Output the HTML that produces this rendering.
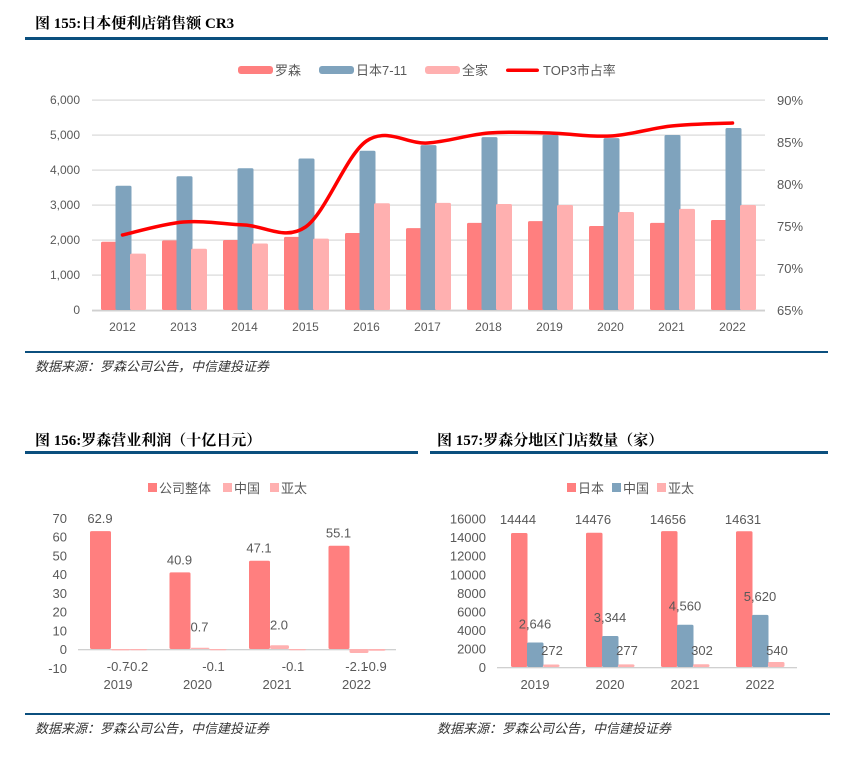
<!DOCTYPE html>
<html><head><meta charset="utf-8"><style>
body{margin:0;background:#fff;width:856px;height:766px;overflow:hidden}
svg{display:block}
text{font-family:"Liberation Sans","Noto Sans CJK SC",sans-serif;fill:#595959}
.t{font-family:"Liberation Serif","Noto Serif CJK SC","Noto Sans CJK SC",serif;font-weight:bold;fill:#000;font-size:15px}
.s{font-family:"Liberation Serif","Noto Sans CJK SC",sans-serif;font-style:italic;fill:#333;font-size:13px}
</style></head><body>
<svg id="c" width="856" height="766" xmlns="http://www.w3.org/2000/svg">
<text class="t" x="35" y="28">图 155:日本便利店销售额 CR3</text>
<rect x="25" y="37" width="803" height="3" fill="#0b4f7e"/>
<rect x="25" y="351" width="803" height="2" fill="#0b4f7e"/>
<text class="s" x="35" y="371">数据来源：罗森公司公告，中信建投证券</text>
<text class="t" x="35" y="445">图 156:罗森营业利润（十亿日元）</text>
<rect x="25" y="451" width="393" height="3" fill="#0b4f7e"/>
<text class="t" x="437" y="445">图 157:罗森分地区门店数量（家）</text>
<rect x="430" y="451" width="398" height="3" fill="#0b4f7e"/>
<rect x="25" y="713" width="805" height="2" fill="#0b4f7e"/>
<text class="s" x="35" y="733">数据来源：罗森公司公告，中信建投证券</text>
<text class="s" x="437" y="733">数据来源：罗森公司公告，中信建投证券</text>
<g id="g"></g>
</svg>
<script>
var g=document.getElementById('g'),h='';
function R(x,y,w,hh,c,r){h+='<rect x="'+x+'" y="'+y+'" width="'+w+'" height="'+hh+'" fill="'+c+'"'+(r?' rx="'+r+'"':'')+'/>';}
function T(x,y,s,sz,a){h+='<text x="'+x+'" y="'+y+'" font-size="'+(sz||12)+'" text-anchor="'+(a||'middle')+'">'+s+'</text>';}
var RED='#ff7f7f',BLUE='#7fa3bd',PINK='#ffb0b0';
// chart 1
for(var i=0;i<=6;i++){var y=310-35*i;R(92,y-0.5,673,1.2,'#d9d9d9');T(80,y+4,(i==0?'0':i+',000'),12,'end');}
for(i=0;i<=5;i++){T(777,310-42*i+5,(65+5*i)+'%',13,'start');}
R(92,310,673,1.5,'#d0d0d0');
var L=[1950,1990,2000,2090,2200,2340,2490,2540,2400,2490,2570],S=[3550,3820,4050,4330,4550,4710,4940,5000,4910,5000,5200],F=[1610,1750,1900,2040,3050,3060,3030,3000,2800,2890,3000];
var Y=[235,222,225,227,141,143,133,133,136,126,123],pts=[];
for(i=0;i<11;i++){var c=122.5+61*i;
R(c-21.5,310-L[i]*0.035,16,L[i]*0.035,RED,1.5);R(c-7,310-S[i]*0.035,16,S[i]*0.035,BLUE,1.5);R(c+7.5,310-F[i]*0.035,16,F[i]*0.035,PINK,1.5);
T(c,331,2012+i,12);pts.push([c,Y[i]]);}
var d='M'+pts[0][0]+','+pts[0][1];
for(i=0;i<10;i++){var p0=pts[Math.max(i-1,0)],p1=pts[i],p2=pts[i+1],p3=pts[Math.min(i+2,10)];
d+=' C'+(p1[0]+(p2[0]-p0[0])/6)+','+(p1[1]+(p2[1]-p0[1])/6)+' '+(p2[0]-(p3[0]-p1[0])/6)+','+(p2[1]-(p3[1]-p1[1])/6)+' '+p2[0]+','+p2[1];}
h+='<path d="'+d+'" fill="none" stroke="#ff0000" stroke-width="3.5" stroke-linecap="round"/>';
R(238,66,35,8,RED,3);T(275,75,'罗森',13,'start');
R(319,66,35,8,BLUE,3);T(356,75,'日本7-11',13,'start');
R(425,66,35,8,PINK,3);T(462,75,'全家',13,'start');
R(506,68.5,33,3.5,'#ff0000',2);T(543,75,'TOP3市占率',13,'start');
// chart 2
for(i=-1;i<=7;i++){T(67,649-18.75*i+5,i*10,13,'end');}
R(78,649,318,1.3,'#d0d0d0');
var TT=[62.9,40.9,47.1,55.1],CN=[-0.7,0.7,2.0,-2.1],AP=[-0.2,-0.1,-0.1,-0.9];
function bar(x,w,v,col,z,k){var hh=Math.abs(v)*k;R(x,v>=0?z-hh:z,w,Math.max(hh,1.2),col,1.5);}
for(i=0;i<4;i++){var c=118+79.5*i;
bar(c-28,21,TT[i],RED,649,1.875);bar(c-7,19,CN[i],PINK,649,1.875);bar(c+12,17,AP[i],PINK,649,1.875);
T(c-18,649-TT[i]*1.875-8,TT[i].toFixed(1),13);
if(CN[i]>0)T(c+2,633-CN[i]*1.875,CN[i].toFixed(1),13);else T(c,671,CN[i].toFixed(1),13);
T(c+(CN[i]>0?16:19),671,AP[i].toFixed(1),13);
T(c,689,2019+i,13);}
R(148,483,9,9,RED);T(159,493,'公司整体',13,'start');
R(223,483,9,9,PINK);T(234,493,'中国',13,'start');
R(270,483,9,9,PINK);T(281,493,'亚太',13,'start');
// chart 3
for(i=0;i<=8;i++){T(486,667-18.55*i+5,i*2000,13,'end');}
R(497,667,300,1.3,'#d0d0d0');
var J=[14444,14476,14656,14631],C2=[2646,3344,4560,5620],A2=[272,277,302,540],CS=['2,646','3,344','4,560','5,620'];
var k=18.55/2000;
for(i=0;i<4;i++){var c=535+75*i;
bar(c-24,16.5,J[i],RED,667,k);bar(c-8,16.5,C2[i],BLUE,667,k);bar(c+8,16.5,A2[i],PINK,667,k);
T(c-17,524,J[i],13);T(c,667-C2[i]*k-14,CS[i],13);T(c+17,655,A2[i],13);T(c,689,2019+i,13);}
R(567,483,9,9,RED);T(578,493,'日本',13,'start');
R(612,483,9,9,BLUE);T(623,493,'中国',13,'start');
R(657,483,9,9,PINK);T(668,493,'亚太',13,'start');
g.innerHTML=h;
</script>
</body></html>
